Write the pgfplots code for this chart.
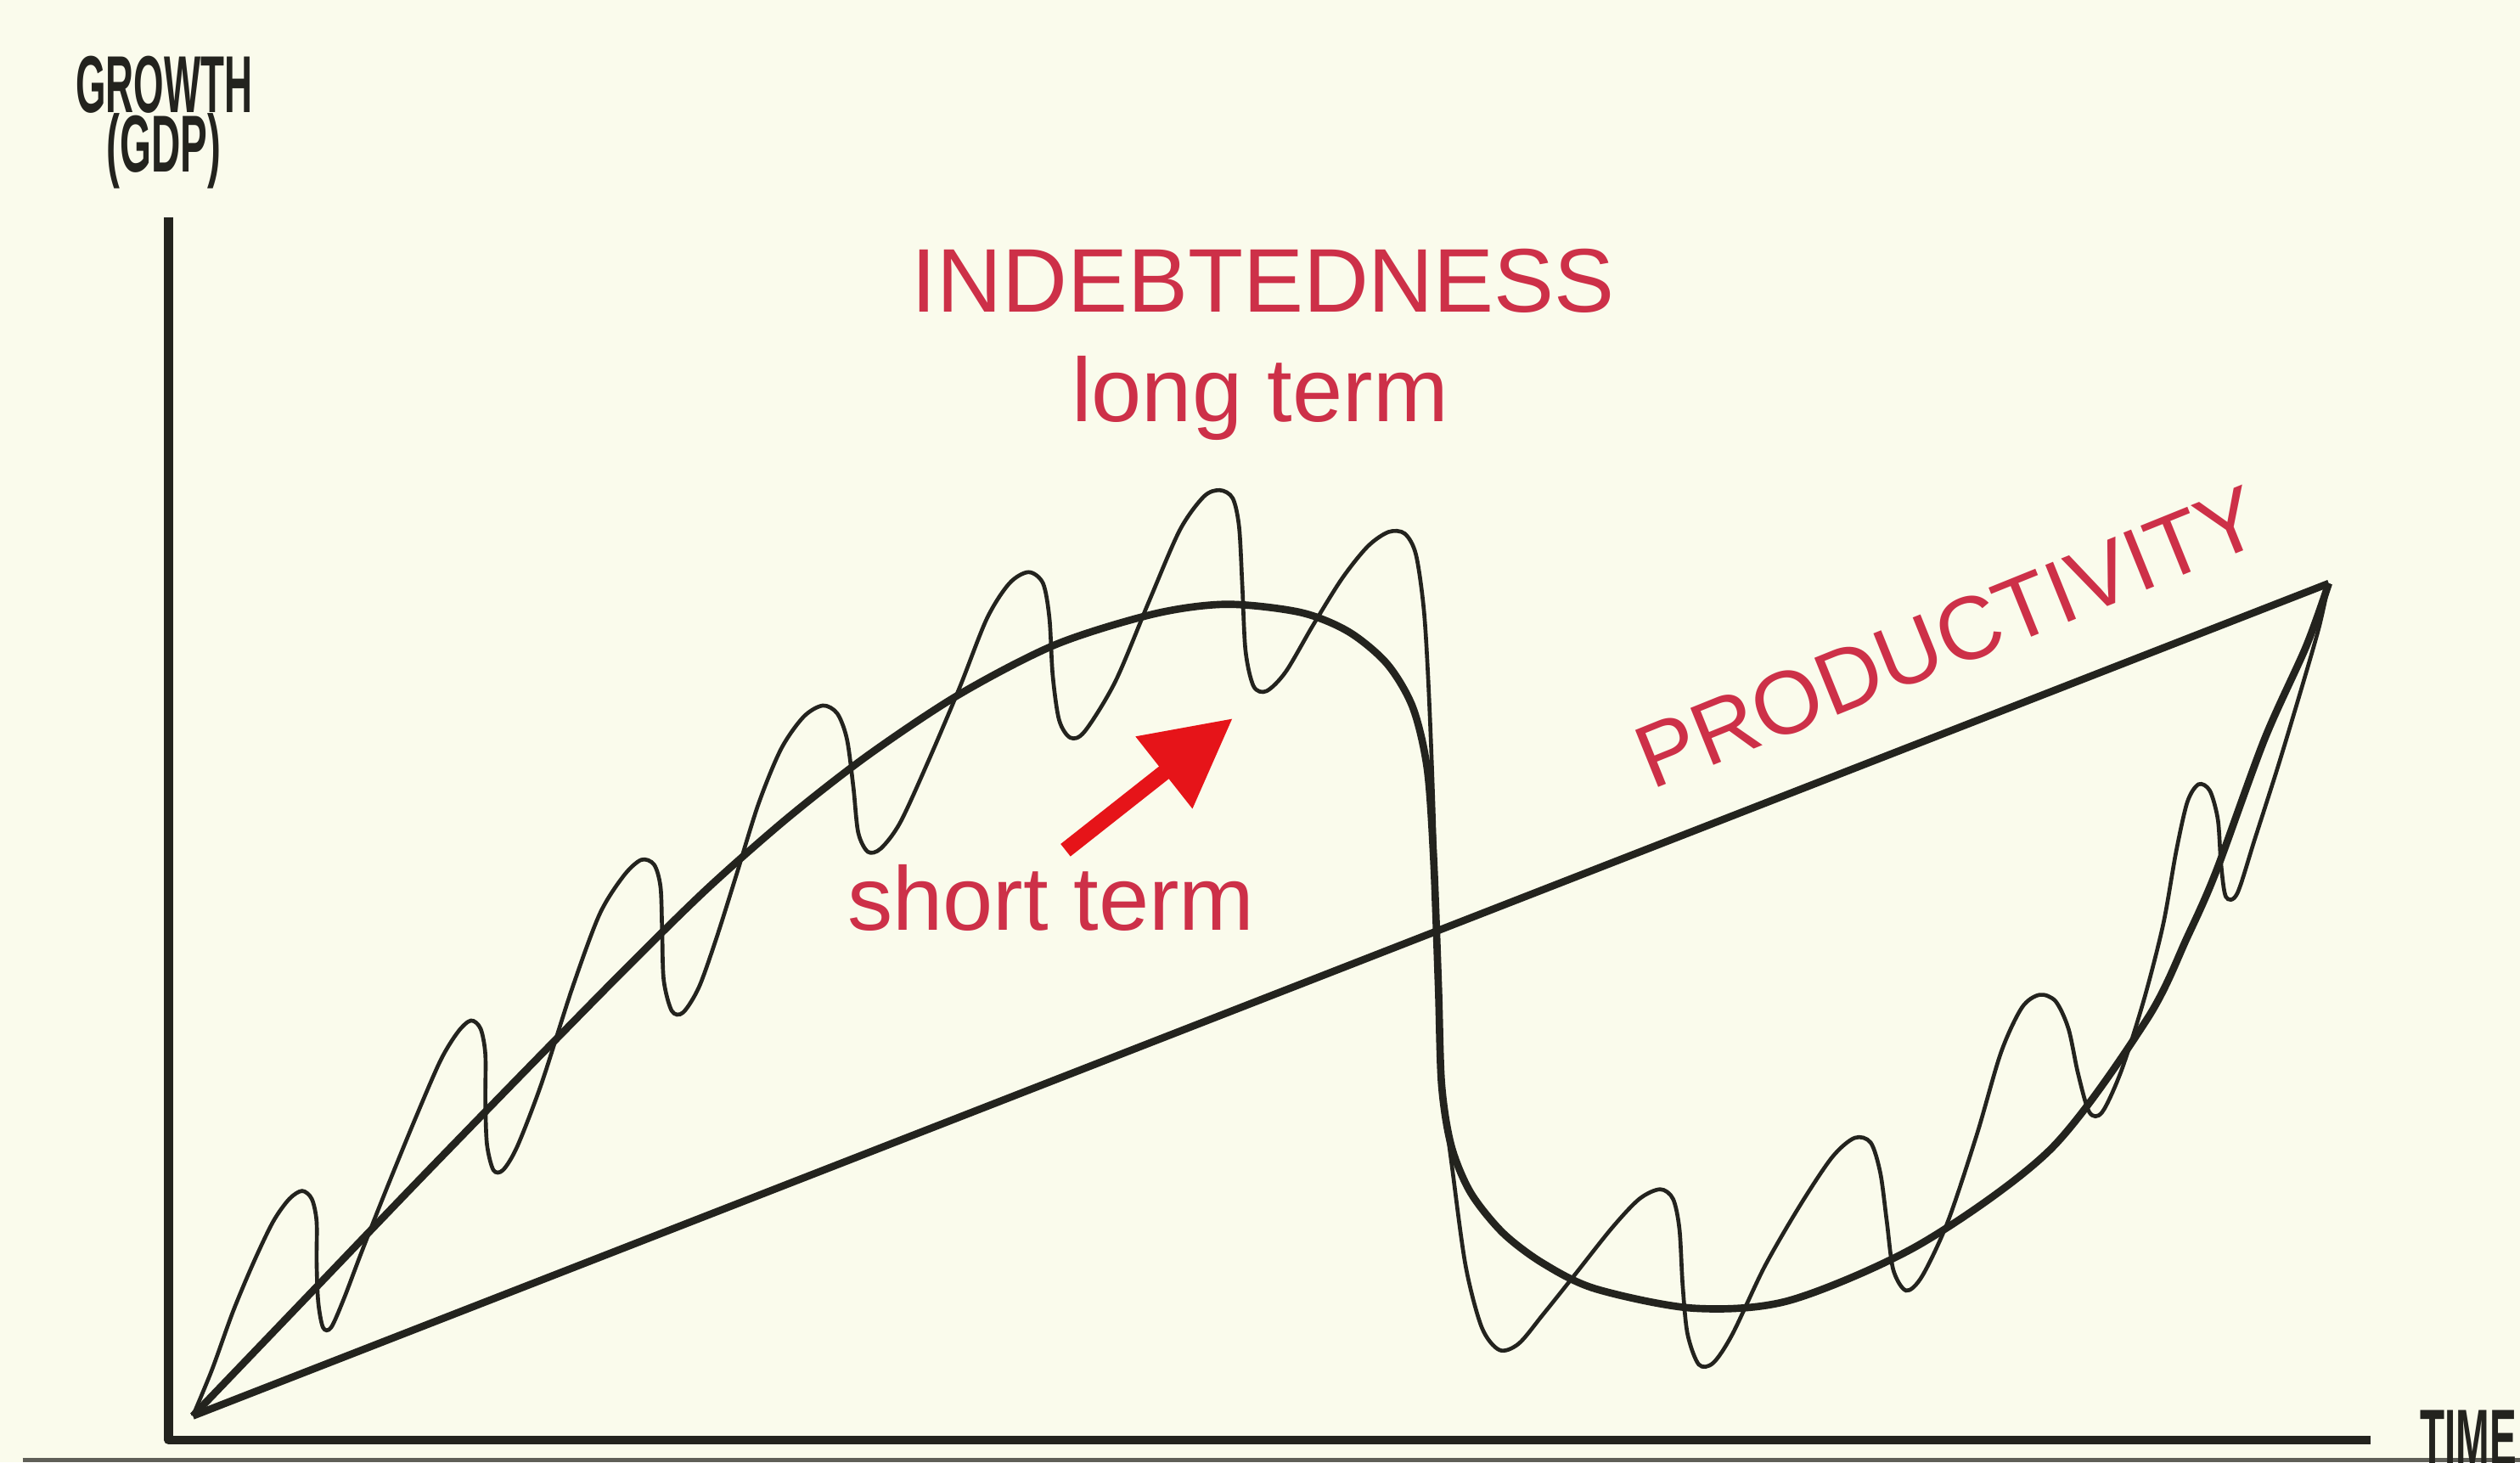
\documentclass[border=0pt]{standalone}
\usepackage{pgfplots}
\pgfplotsset{compat=1.18}
\usepackage{fontspec}
\setmainfont{Liberation Sans}
\newfontfamily\arial{Liberation Sans}
\newfontfamily\arialb{Liberation Sans Bold}
\usetikzlibrary{arrows.meta}
\definecolor{bg}{RGB}{250,251,236}
\definecolor{ink}{RGB}{35,35,30}
\definecolor{txtred}{RGB}{205,48,72}
\definecolor{arrred}{RGB}{230,20,25}
\begin{document}
\begin{tikzpicture}
\begin{axis}[name=ax, at={(0,0)}, anchor=south west, scale only axis,
  width=15.68cm, height=9.10cm, xmin=0, xmax=1568, ymin=0, ymax=910,
  y dir=reverse, axis lines=none, ticks=none, clip=false]
% background
\addplot[fill=bg, draw=none] coordinates {(0,0)(1568,0)(1568,910)(0,910)} -- cycle;
\addplot[draw={rgb,255:red,95;green,95;blue,88}, line width=0.7pt] coordinates {(14,908.6)(1568,908.6)};
% axes
\addplot[ink, line width=1.6pt, line join=round] coordinates {(105,135)(105,896)(1475,896)};
% productivity
\addplot[ink, line width=1.3pt] coordinates {(120,881)(1449,363)};
% long term
\addplot[ink, line width=1.3pt, smooth] coordinates {
(120,881)(190,808)(260,735)(330,663)(390,602)(440,553)(490,509)(540,470)
(597,432)(657,401)(718,382)(763,376)(809,381)(839,393)(863,413)(879,440)
(888,478)(892,534)(895,614)(897,675)(903,713)(915,742)(935,767)(960,786)
(993,802)(1054,814)(1114,809)(1195,774)(1276,715)(1336,634)(1361,583)
(1379,542)(1409,460)(1435,402)(1449,363)};
% short term
\addplot[ink, line width=0.7pt, smooth] coordinates {
(120,881)(132,852)(145,816)(158,785)(170,760)(180,746)(188,741)(194,746)
(197,760)(197,785)(198,810)(201,826)(206,826)(214,808)(225,779)(240,741)
(258,697)(274,660)(285,642)(293,635)(299,640)(302,656)(302,685)(303,712)
(307,728)(313,728)(322,713)(337,674)(356,615)(373,569)(388,545)(399,535)
(407,538)(411,552)(412,580)(413,610)(418,629)(425,630)(435,614)(446,583)
(458,545)(472,500)(486,466)(500,446)(512,439)(521,444)(527,460)(531,490)
(534,518)(540,530)(548,528)(560,512)(577,475)(597,428)(614,385)(628,363)
(640,356)(649,363)(653,385)(655,420)(659,448)(666,459)(675,455)(694,424)
(715,374)(734,330)(749,309)(759,305)(767,310)(771,328)(773,365)(775,405)
(780,427)(788,430)(800,418)(817,389)(835,360)(851,340)(864,331)(874,332)
(881,345)(886,380)(889,430)(892,507)(895,614)(898,680)(904,730)(912,788)
(922,826)(933,840)(945,836)(960,818)(980,793)(1003,764)(1020,746)(1033,740)
(1041,746)(1045,765)(1047,800)(1050,830)(1057,849)(1066,848)(1078,830)
(1098,788)(1120,750)(1140,720)(1154,708)(1164,711)(1170,730)(1174,760)
(1178,790)(1186,803)(1196,794)(1212,760)(1230,706)(1245,655)(1258,627)
(1269,619)(1279,623)(1287,640)(1293,668)(1300,692)(1308,692)(1320,666)
(1334,622)(1346,575)(1354,530)(1361,499)(1368,488)(1375,492)(1380,510)
(1382,538)(1385,558)(1392,556)(1403,522)(1418,475)(1433,425)(1443,390)
(1449,363)};
% arrow
\addplot[arrred, line width=2.8pt, -{Triangle[length=15.5pt,width=15.5pt]}] coordinates {(663,529)(767,447)};
% texts
\node[anchor=base, inner sep=0pt, text=ink] at (axis cs:102,70) {\scalebox{0.48}[1]{\arialb\fontsize{14.3pt}{16pt}\selectfont GROWTH}};
\node[anchor=base, inner sep=0pt, text=ink] at (axis cs:102,107) {\scalebox{0.5}[1]{\arialb\fontsize{14.3pt}{16pt}\selectfont (GDP)}};
\node[anchor=base west, inner sep=0pt, text=ink] at (axis cs:1505,912) {\scalebox{0.5}[1]{\arialb\fontsize{14.3pt}{16pt}\selectfont TIME}};
\node[anchor=base, inner sep=0pt, text=txtred] at (axis cs:786,194) {\arial\fontsize{16pt}{19pt}\selectfont INDEBTEDNESS};
\node[anchor=base, inner sep=0pt, text=txtred] at (axis cs:784,262.5) {\arial\fontsize{16pt}{19pt}\selectfont long term};
\node[anchor=base, inner sep=0pt, text=txtred] at (axis cs:654,579) {\arial\fontsize{16pt}{19pt}\selectfont short term};
\node[anchor=base west, inner sep=0pt, text=txtred, rotate=22] at (axis cs:1027,492) {\arial\fontsize{15.8pt}{18pt}\selectfont PRODUCTIVITY};
\end{axis}
\pgfresetboundingbox
\path[use as bounding box] (ax.south west) rectangle (ax.north east);
\end{tikzpicture}
\end{document}
